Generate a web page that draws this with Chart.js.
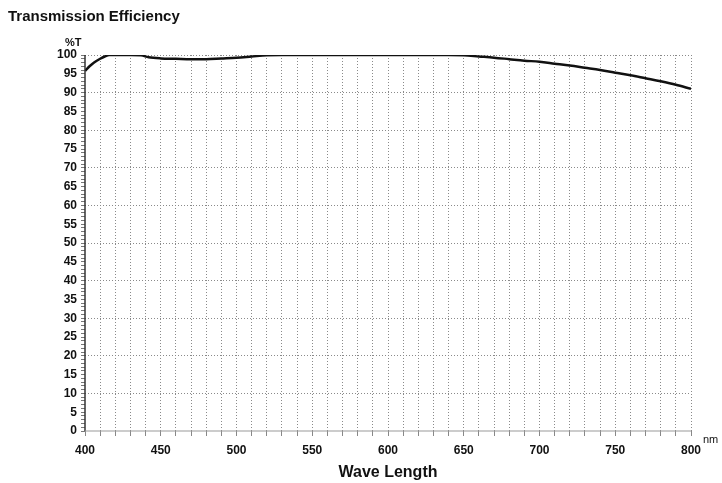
<!DOCTYPE html>
<html>
<head>
<meta charset="utf-8">
<script src="https://cdn.jsdelivr.net/npm/chart.js@4"></script>
<style>
html,body{margin:0;padding:0;background:#fff;}
#wrap{width:722px;height:483px;position:relative;}
</style>
</head>
<body>
<div id="wrap"><canvas id="c" width="722" height="483"></canvas></div>
<script>
const chartTitle = "Transmission Efficiency";
const xAxisTitle = "Wave Length";
const yUnit = "%T";
const xUnit = "nm";
const wavelengths = [400,403,406,410,413,416,420,430,437,442,450,460,470,480,490,500,510,520,530,550,600,640,650,660,670,680,690,700,710,720,730,740,750,760,770,780,790,800];
const transmission = [95.8,97,98,99,99.6,100,100,100,99.9,99.4,99.1,99,98.9,98.9,99.1,99.3,99.6,99.9,100,100,100,100,99.9,99.6,99.3,98.9,98.5,98.2,97.7,97.2,96.6,96,95.3,94.6,93.8,93,92.1,91];

const points = wavelengths.map((w,i)=>({x:w,y:transmission[i]}));
const FONT = "'Liberation Sans', Arial, sans-serif";

const textPlugin = {
  id:'texts',
  afterDraw(chart){
    const ctx = chart.ctx;
    const ca = chart.chartArea;
    ctx.save();
    ctx.fillStyle = '#111';
    ctx.textBaseline = 'alphabetic';
    ctx.font = "bold 15px " + FONT;
    ctx.textAlign = 'left';
    ctx.fillText(chartTitle, 8, 21);
    ctx.font = "bold 11px " + FONT;
    ctx.fillText(yUnit, 65, 46);
    ctx.font = "11px " + FONT;
    ctx.fillText(xUnit, 703, 443);
    ctx.font = "bold 16px " + FONT;
    ctx.textAlign = 'center';
    ctx.fillText(xAxisTitle, (ca.left+ca.right)/2, 477);
    ctx.restore();
  }
};

const axisLines = {
  id:'axisLines',
  afterDatasetsDraw(chart){
    const ctx = chart.ctx, ca = chart.chartArea;
    ctx.save();
    ctx.setLineDash([]);
    ctx.strokeStyle = '#333';
    ctx.lineWidth = 1.5;
    ctx.beginPath(); ctx.moveTo(ca.left, ca.top); ctx.lineTo(ca.left, ca.bottom); ctx.stroke();
    ctx.strokeStyle = '#999';
    ctx.lineWidth = 1;
    ctx.beginPath(); ctx.moveTo(ca.left, ca.bottom); ctx.lineTo(ca.right, ca.bottom); ctx.stroke();
    ctx.restore();
  }
};

new Chart(document.getElementById('c'), {
  type:'scatter',
  data:{datasets:[{
    data:points,
    showLine:true,
    borderColor:'#111',
    borderWidth:2.5,
    pointRadius:0,
    tension:0.4,
    cubicInterpolationMode:'monotone'
  }]},
  options:{
    responsive:false,
    animation:false,
    layout:{padding:{left:0,right:31,top:55,bottom:0}},
    plugins:{legend:{display:false},tooltip:{enabled:false},title:{display:false}},
    scales:{
      x:{
        type:'linear', min:400, max:800,
        afterFit(s){ s.height = 52; },
        ticks:{stepSize:10, autoSkip:false, maxRotation:0, padding:7,
          color:'#111', font:{family:FONT, size:12, weight:'bold'},
          callback:(v)=> (v%50===0 ? String(v) : '')},
        grid:{
          color:(c)=> (c.tick && c.tick.value===400) ? 'rgba(0,0,0,0)' : '#8a8a8a',
          lineWidth:1,
          tickLength:5,
          tickColor:'#888',
          drawTicks:true
        },
        border:{display:false, dash:[1,2]}
      },
      y:{
        min:0, max:100,
        afterFit(s){ s.width = 85; },
        ticks:{stepSize:1, autoSkip:false, padding:4,
          color:'#111', font:{family:FONT, size:12, weight:'bold'},
          callback:(v)=> (v%5===0 ? String(v) : '')},
        grid:{
          color:(c)=> (c.tick && c.tick.value%10===0 && c.tick.value!==0) ? '#8a8a8a' : 'rgba(0,0,0,0)',
          lineWidth:1,
          tickLength:4,
          tickColor:'#777',
          drawTicks:true
        },
        border:{display:false, dash:[1,2]}
      }
    }
  },
  plugins:[textPlugin, axisLines]
});
</script>
</body>
</html>
